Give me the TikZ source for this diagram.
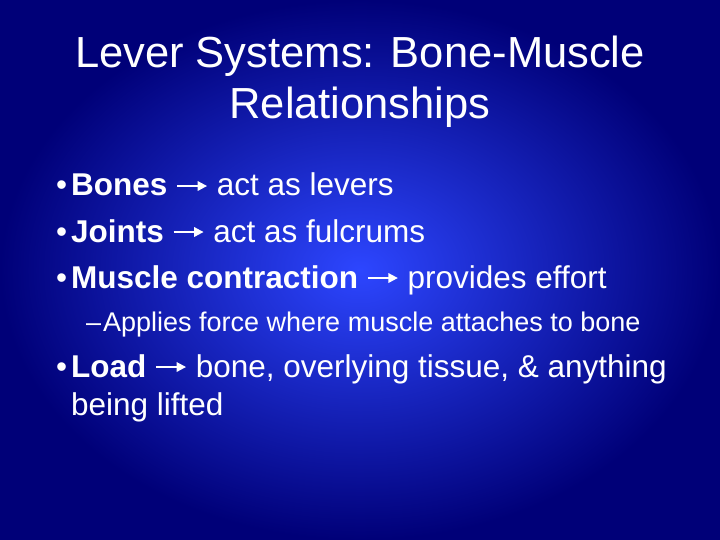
\documentclass[tikz,border=0pt]{standalone}
\usepackage{fontspec}
\setmainfont{Liberation Sans}
\usetikzlibrary{arrows.meta}
\newcommand{\arr}{\tikz[baseline=-0.6ex]\draw[white,line width=0.06em,-{Triangle[length=0.3em,width=0.3em]}] (0,0)--(0.95em,0);}
\begin{document}
\begin{tikzpicture}[x=1pt,y=-1pt,
  txt/.style={text=white,anchor=base west,inner sep=0pt,font=\fontsize{31.5}{37}\selectfont},
  sub/.style={txt,font=\fontsize{27}{31}\selectfont},
  ttl/.style={text=white,anchor=base,inner sep=0pt,font=\fontsize{43.5}{52}\selectfont}]
\path[use as bounding box,inner color={rgb,255:red,45;green,70;blue,255},outer color={rgb,255:red,0;green,0;blue,120}] (0,0) rectangle (720,540);
\node[ttl] (t1) at (360,68) {Lever Systems: Bone-Muscle};
\node[ttl] (t2) at (360,119) {Relationships};
\node[txt] (d1) at (56,196) {•};
\node[txt] (b1) at (71,196) {\textbf{Bones} \arr{} act as levers};
\node[txt] (d2) at (56,242) {•};
\node[txt] (b2) at (71,242) {\textbf{Joints} \arr{} act as fulcrums};
\node[txt] (d3) at (56,288) {•};
\node[txt] (b3) at (71,288) {\textbf{Muscle contraction} \arr{} provides effort};
\node[sub] (d4) at (86,331) {–};
\node[sub] (s1) at (103,331) {Applies force where muscle attaches to bone};
\node[txt] (d5) at (56,377) {•};
\node[txt] (b4) at (71,377) {\textbf{Load} \arr{} bone, overlying tissue, \& anything};
\node[txt] (b5) at (71,415) {being lifted};
\end{tikzpicture}
\end{document}
